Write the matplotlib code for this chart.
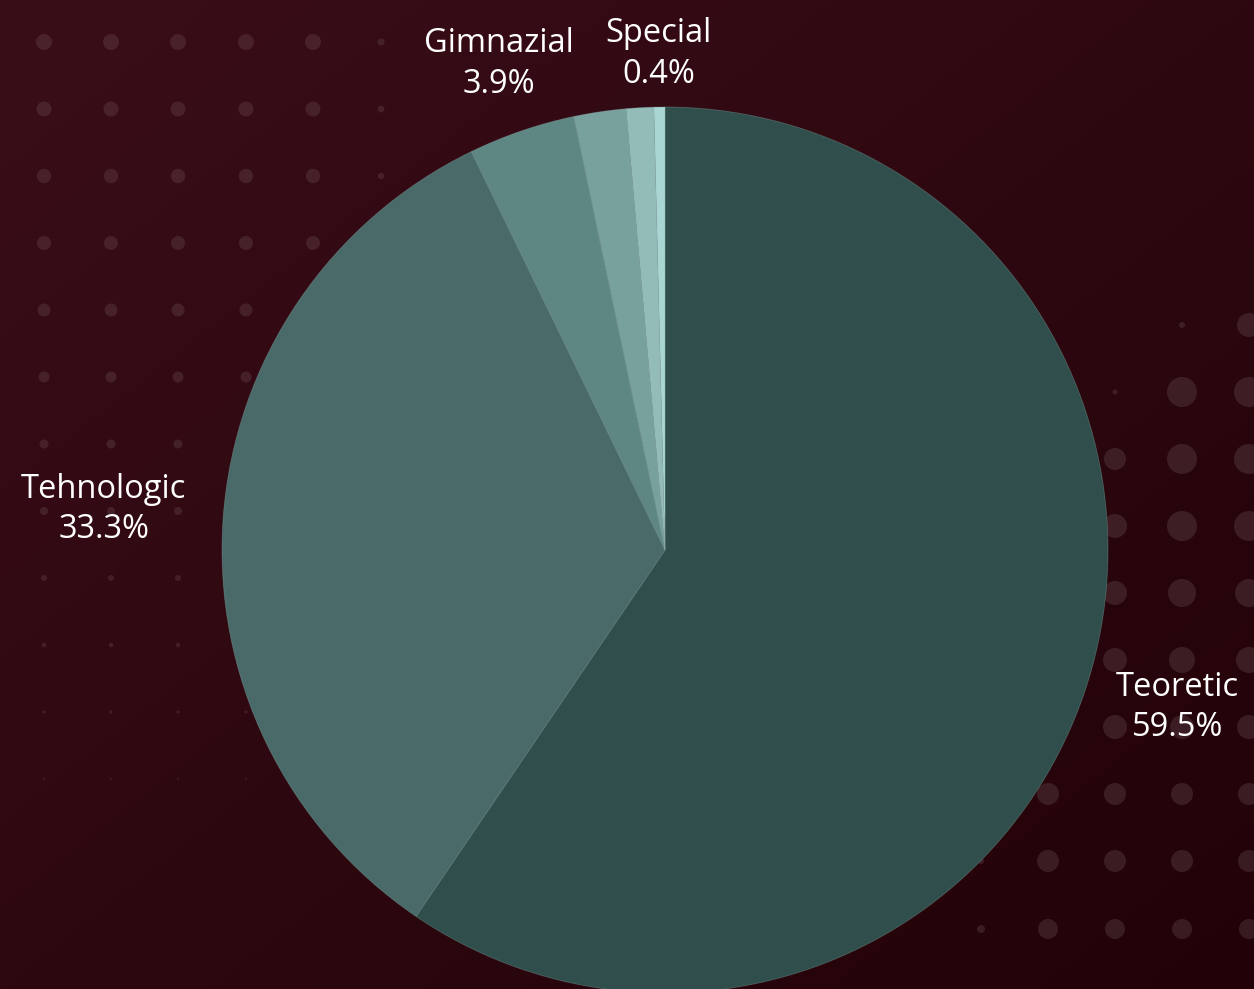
import numpy as np
import matplotlib
matplotlib.use('Agg')
import matplotlib.pyplot as plt

# Share of pupils by school profile [%]
categories = ['Teoretic', 'Tehnologic', 'Gimnazial', 'Vocational', 'Profesional', 'Special']
shares = [59.5, 33.3, 3.9, 1.9, 1.0, 0.4]
show_label = [True, True, True, False, False, True]
colors = ['#2f4e4c', '#496a68', '#5e8683', '#78a09d', '#93bcb9', '#a9d6d2']
label_dist = [1.21, 1.27, 1.16, 1.2, 1.2, 1.12]

W, H = 1254, 989
fig = plt.figure(figsize=(W / 100, H / 100), dpi=100)

# background: dark maroon gradient with halftone dots
bg = fig.add_axes([0, 0, 1, 1])
yy, xx = np.mgrid[0:1:200j, 0:1:200j]
t = (xx + yy) / 2
c0 = np.array([58, 14, 24]) / 255
c1 = np.array([34, 2, 8]) / 255
grad = c0[None, None, :] * (1 - t[..., None]) + c1[None, None, :] * t[..., None]
bg.imshow(grad, extent=[0, W, H, 0], aspect='auto', interpolation='bilinear')
bg.set_xlim(0, W)
bg.set_ylim(H, 0)
bg.axis('off')

# left dot block: radius per row, columns at 67 px spacing
left_x = [44, 111, 178, 246, 313, 381]
left_y = [42, 109, 176, 243, 310, 377, 444, 511, 578, 645, 712, 779]
left_r = [8, 7.5, 7.2, 7, 6.5, 5.5, 4.5, 4, 3, 2.3, 1.6, 1]
for j, (y, r) in enumerate(zip(left_y, left_r)):
    for i, x in enumerate(left_x):
        rr = r if i < 5 else max(r * 0.45, 0.8)
        bg.add_patch(plt.Circle((x, y), rr, color='white', alpha=0.09, lw=0))

# right dot block
right_dots = [
    (1182, 325, 3), (1249, 325, 12),
    (1115, 392, 2.5), (1182, 392, 15), (1249, 392, 15),
    (1115, 459, 11), (1182, 459, 15), (1249, 459, 15),
    (1115, 526, 12), (1182, 526, 15), (1249, 526, 15),
    (1115, 593, 12), (1182, 593, 14), (1249, 593, 14),
    (1048, 660, 11), (1115, 660, 12), (1182, 660, 13), (1249, 660, 13),
    (1048, 727, 11), (1115, 727, 12), (1182, 727, 12), (1249, 727, 12),
    (1048, 794, 11), (1115, 794, 11), (1182, 794, 11), (1249, 794, 11),
    (981, 861, 3), (1048, 861, 11), (1115, 861, 11), (1182, 861, 11), (1249, 861, 11),
    (981, 929, 4), (1048, 929, 10), (1115, 929, 10), (1182, 929, 10), (1249, 929, 10),
]
for x, y, r in right_dots:
    bg.add_patch(plt.Circle((x, y), r, color='white', alpha=0.1, lw=0))

# pie: centre (665, 550) px, radius 443 px
cx, cy, R = 665, 550, 443
ax = fig.add_axes([(cx - R) / W, (H - cy - R) / H, 2 * R / W, 2 * R / H])
wedges, _ = ax.pie(shares, colors=colors, startangle=90, counterclock=False,
                   wedgeprops=dict(edgecolor=(0.55, 0.7, 0.68, 0.35), linewidth=0.6))
ax.set_xlim(-1, 1)
ax.set_ylim(-1, 1)
ax.axis('off')

for w, name, val, show, d in zip(wedges, categories, shares, show_label, label_dist):
    if not show:
        continue
    ang = np.deg2rad((w.theta1 + w.theta2) / 2)
    ax.text(d * np.cos(ang), d * np.sin(ang), f'{name}\n{val}%',
            ha='center', va='center', color='white', fontsize=23.5,
            family='Open Sans', linespacing=1.3, clip_on=False)

fig.savefig('out.png', dpi=100)
